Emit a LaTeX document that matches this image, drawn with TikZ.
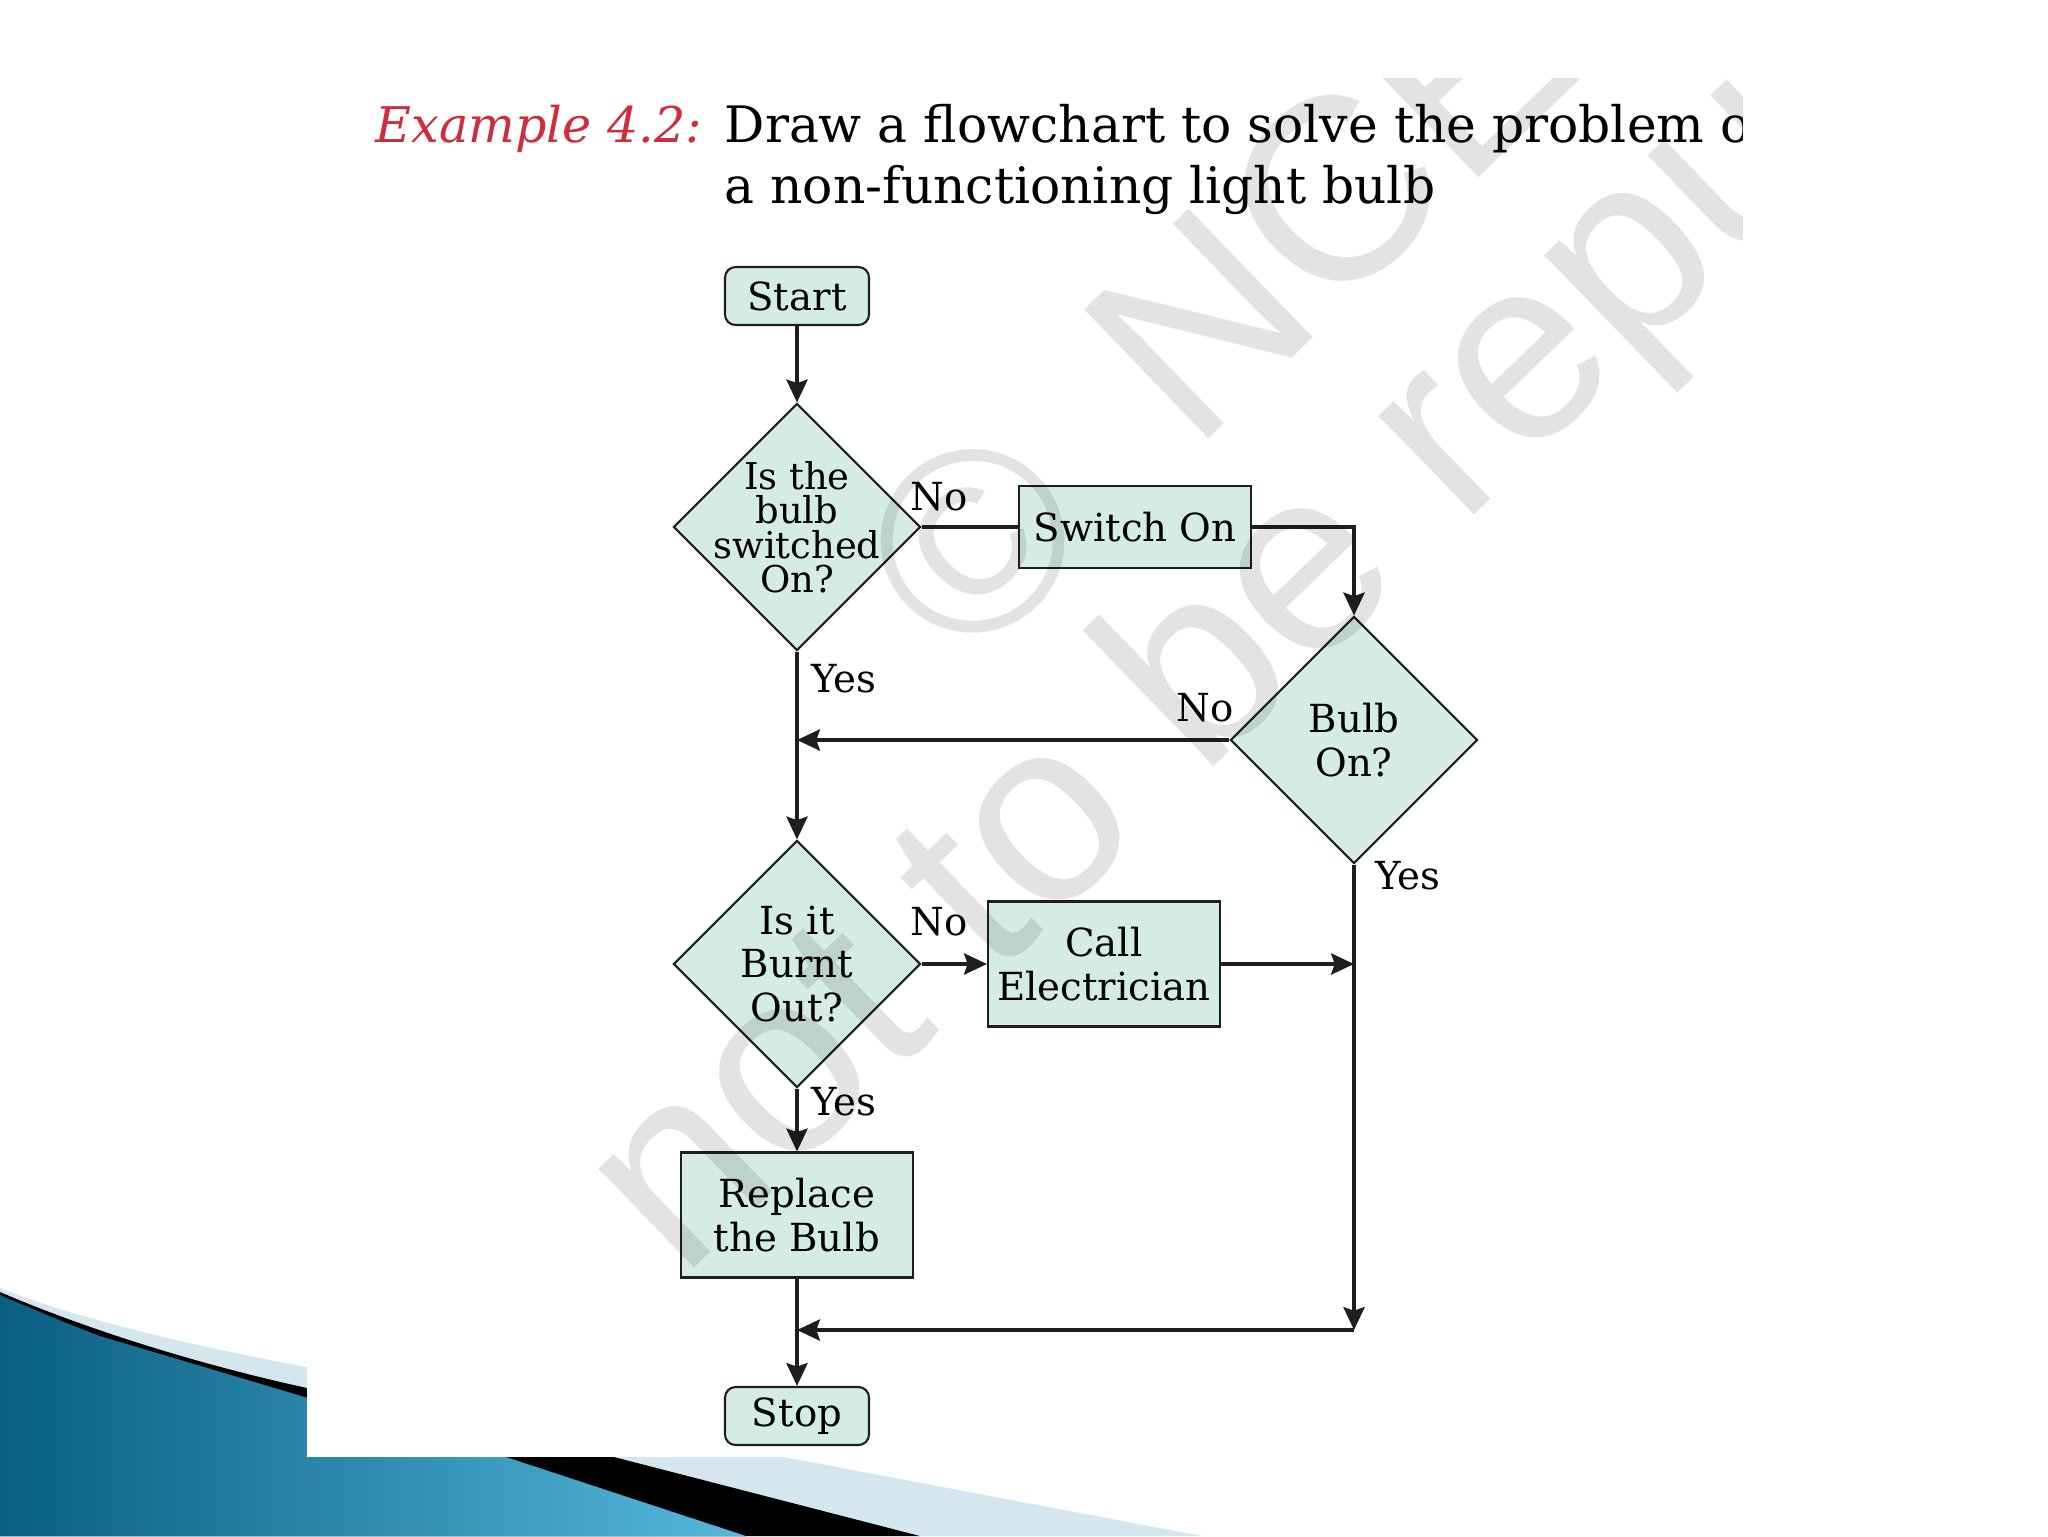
\documentclass[tikz,border=0pt]{standalone}
\usepackage{fontspec}
\setmainfont{DejaVu Serif}
\newfontfamily\wmfont{Liberation Sans}
\usetikzlibrary{arrows.meta,positioning,shapes.geometric}
\definecolor{boxfill}{RGB}{213,236,226}
\definecolor{linecol}{RGB}{30,30,30}
\definecolor{examplered}{RGB}{205,45,60}
\definecolor{swooshdark}{RGB}{10,95,130}
\definecolor{swooshlight}{RGB}{85,185,220}
\definecolor{swooshpale}{RGB}{212,230,238}
\tikzset{
  boxtext/.style={font=\fontsize{11}{12.5}\selectfont,align=center},
  term/.style={draw=linecol,fill=boxfill,rounded corners=3pt,line width=.6pt,
               minimum width=14.4mm,minimum height=5.8mm,inner sep=0pt,boxtext},
  proc/.style={draw=linecol,fill=boxfill,line width=.6pt,minimum width=23.2mm,
               inner sep=0pt,boxtext},
  decision/.style={diamond,draw=linecol,fill=boxfill,line width=.6pt,
                   minimum width=24.7mm,minimum height=24.7mm,inner sep=0pt},
  flow/.style={-{Stealth[length=6.5pt,width=6pt,inset=1pt]},draw=linecol,
               line width=1.1pt},
  link/.style={draw=linecol,line width=1.1pt},
  answer/.style={font=\fontsize{11}{12}\selectfont,inner sep=0pt},
  headline/.style={anchor=base west,inner sep=0pt,font=\fontsize{14.3}{17}\selectfont},
  wm/.style={font=\wmfont\fontsize{74}{74}\selectfont,text=black,
             opacity=.11,anchor=base west,rotate=44,inner sep=0pt},
}
\begin{document}
\begin{tikzpicture}[x=0.1mm,y=0.1mm]
  \useasboundingbox (0,0) rectangle (2048,-1536);
  % slide corner
  \fill[swooshpale] (0,-1288) .. controls (60,-1312) and (160,-1340) .. (307,-1367)
    -- (1202,-1536) -- (0,-1536) -- cycle;
  \fill[black] (0,-1292) .. controls (60,-1318) and (170,-1358) .. (307,-1388)
    -- (614,-1457) -- (920,-1536) -- (0,-1536) -- cycle;
  \fill[left color=swooshdark,right color=swooshlight] (0,-1295)
    .. controls (40,-1312) and (70,-1325) .. (100,-1336)
    -- (506,-1457) -- (746,-1536) -- (0,-1536) -- cycle;
  \fill[white] (307,-78) rectangle (1742,-1457);

  % boxes
  \node[term] (start) at (797,-296) {Start};
  \node[decision] (d1) at (797,-527) {};
  \node[boxtext,font=\fontsize{10.5}{9.8}\selectfont] (d1text) at (d1) {Is the\\bulb\\switched\\On?};
  \node[proc,minimum height=8.2mm] (switch) at (1135,-527) {Switch On};
  \node[decision] (d2) at (1354,-740) {};
  \node[boxtext] (d2text) at (d2) {Bulb\\On?};
  \node[decision] (d3) at (797,-964) {};
  \node[boxtext] (d3text) at (d3) {Is it\\Burnt\\Out?};
  \node[proc,minimum height=12.5mm] (call) at (1104,-964) {Call\\Electrician};
  \node[proc,minimum height=12.5mm] (replace) at (797,-1215) {Replace\\the Bulb};
  \node[term] (stop) at (797,-1416) {Stop};
  \coordinate (merge) at (d1.south |- d2.west);
  \coordinate (tee) at (d2.south |- call.east);
  \coordinate (corner) at (1354,-1330);
  \coordinate (join) at (d1.south |- corner);

  % connectors
  \draw[flow] (start) -- (d1);
  \draw[link] (d1.east) -- (switch.west);
  \draw[flow] (switch.east) -| (d2.north);
  \draw[flow] (d1.south) -- (d3.north);
  \draw[flow] (d2.west) -- (merge);
  \draw[flow] (d3.east) -- (call.west);
  \draw[flow] (call.east) -- (tee);
  \draw[flow] (d2.south) -- (corner);
  \draw[flow] (corner) -- (join);
  \draw[flow] (d3.south) -- (replace.north);
  \draw[flow] (replace.south) -- (stop.north);

  % answers
  \node[answer] (no1) at (939,-497) {No};
  \node[answer] (yes1) at (844,-679) {Yes};
  \node[answer] (no2) at (1205,-708) {No};
  \node[answer] (yes2) at (1408,-876) {Yes};
  \node[answer] (no3) at (939,-922) {No};
  \node[answer] (yes3) at (844,-1102) {Yes};

  % heading and watermark, cut at the picture edge
  \begin{scope}
    \clip (307,-78) rectangle (1742,-1457);
    \node[headline,text=examplered,font=\fontsize{14}{17}\selectfont\itshape] (exlabel)
      at (375,-142) {Example 4.2:};
    \node[headline] (exline1) at (724,-142) {Draw a flowchart to solve the problem of};
    \node[headline] (exline2) at (724,-203) {a non-functioning light bulb};
    \node[wm] (wmtop) at (966,-673) {©\hspace{0.2em} NCERT};
    \node[wm] (wmbottom) at (681,-1281) {not to be republished};
  \end{scope}
\end{tikzpicture}
\end{document}
